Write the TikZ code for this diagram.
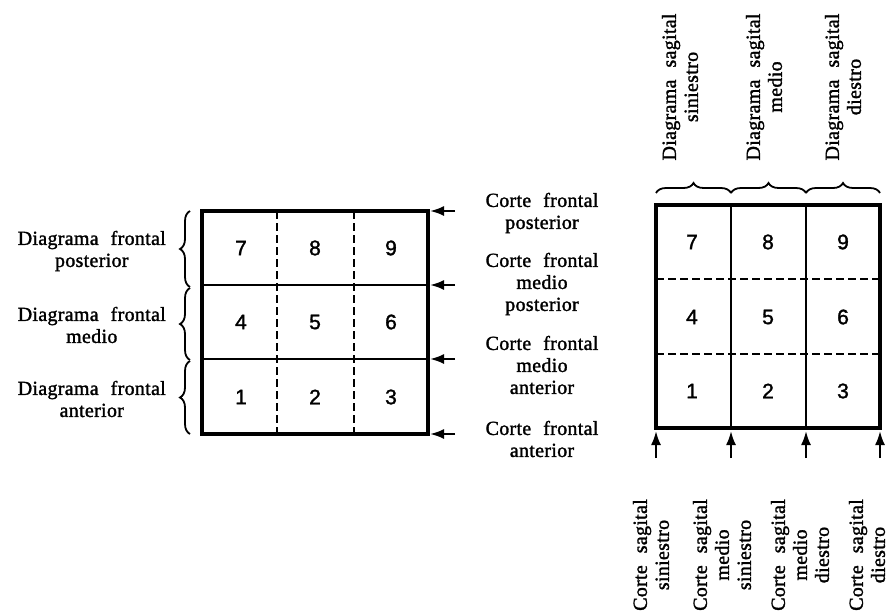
\documentclass[tikz,border=0pt]{standalone}
\usepackage{fontspec}
\setmainfont{Liberation Serif}[LetterSpace=1.5,FakeBold=1.5]
\newfontfamily\numfont{Liberation Sans}[FakeBold=1.5]
\newcommand\wsp{\hspace{12pt}}
\usepackage{tikz}
\usetikzlibrary{arrows.meta,decorations.pathreplacing}
\usetikzlibrary{positioning}

\tikzset{
  lbl/.style={align=center,inner sep=0pt,font=\fontsize{20}{22}\selectfont},
  num/.style={font=\numfont\fontsize{21}{24}\selectfont},
  cut/.style={-{Latex[length=14pt,width=10pt]},line width=2.2pt},
  brc/.style={decorate,decoration={brace,amplitude=10pt},line width=1.8pt},
  frame/.style={line width=3.5pt},
  inner/.style={line width=2pt},
  dsh/.style={line width=2pt,dash pattern=on 8pt off 4pt},
}

\begin{document}
\begin{tikzpicture}[x=1pt,y=-1pt]
\useasboundingbox (0,0) rectangle (890,615);
% frontal diagrams
\foreach \y in {285,359} \draw[inner] (202,\y) -- (428,\y);
\foreach \x in {277,354} \draw[dsh] (\x,211) -- (\x,434);
\draw[frame] (202,211) rectangle (428,434);
\foreach \n/\x/\y in {7/241/248,8/315/248,9/391/248,4/241/322,5/315/322,6/391/322,1/241/397,2/315/397,3/391/397}
  \node[num] (f\n) at (\x,\y) {\n};
\foreach \y [count=\i] in {211,285,359,434} {
  \coordinate (ft\i) at (455,\y);
  \coordinate (fh\i) at (430,\y);
  \draw[cut] (ft\i) -- (fh\i);
}
\draw[brc] (190,287) -- (190,211);
\draw[brc] (190,360) -- (190,288);
\draw[brc] (190,434) -- (190,361);
\node[lbl,anchor=east] (dfp) at (166,251) {Diagrama\wsp frontal\\posterior};
\node[lbl,anchor=east] (dfm) at (166,325) {Diagrama\wsp frontal\\medio};
\node[lbl,anchor=east] (dfa) at (166,399) {Diagrama\wsp frontal\\anterior};
\node[lbl] (cfp) at (542,213) {Corte\wsp frontal\\posterior};
\node[lbl] (cfmp) at (542,284) {Corte\wsp frontal\\medio\\posterior};
\node[lbl] (cfma) at (542,365) {Corte\wsp frontal\\medio\\anterior};
\node[lbl] (cfa) at (542,439) {Corte\wsp frontal\\anterior};
% sagittal diagrams
\foreach \y in {279,354} \draw[dsh] (656,\y) -- (880,\y);
\foreach \x in {731,806} \draw[inner] (\x,205) -- (\x,428);
\draw[frame] (656,205) rectangle (880,428);
\foreach \n/\x/\y in {7/692/242,8/768/242,9/843/242,4/692/317,5/768/317,6/843/317,1/692/391,2/768/391,3/843/391}
  \node[num] (s\n) at (\x,\y) {\n};
\foreach \x [count=\i] in {656,731,806,880} {
  \coordinate (st\i) at (\x,458);
  \coordinate (sh\i) at (\x,431);
  \draw[cut] (st\i) -- (sh\i);
}
\draw[brc] (656,193) -- (731,193);
\draw[brc] (731,193) -- (806,193);
\draw[brc] (806,193) -- (880,193);
\node[lbl,rotate=90] (dss) at (680,87) {Diagrama\wsp sagital\\siniestro};
\node[lbl,rotate=90] (dsm) at (764,87) {Diagrama\wsp sagital\\medio};
\node[lbl,rotate=90] (dsd) at (843,87) {Diagrama\wsp sagital\\diestro};
\node[lbl,rotate=90] (css) at (651,555) {Corte\wsp sagital\\siniestro};
\node[lbl,rotate=90] (csms) at (722,555) {Corte\wsp sagital\\medio\\siniestro};
\node[lbl,rotate=90] (csmd) at (800,555) {Corte\wsp sagital\\medio\\diestro};
\node[lbl,rotate=90] (csd) at (867,555) {Corte\wsp sagital\\diestro};
\end{tikzpicture}
\end{document}
